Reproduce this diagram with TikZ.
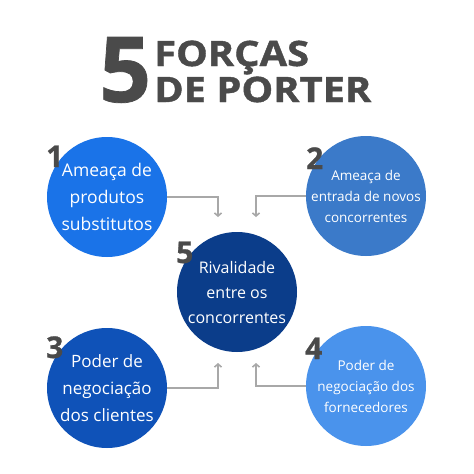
\documentclass[tikz,border=0pt]{standalone}
\usepackage{fontspec}
\setmainfont{Open Sans}
\newfontfamily\titlefont[FakeStretch=1.14,FakeBold=1.2]{Open Sans}
\newfontfamily\numfont[FakeBold=0.8]{Open Sans}
\usetikzlibrary{arrows.meta}
\definecolor{titlegray}{HTML}{4A4A4A}
\definecolor{linkgray}{HTML}{A8A8A8}
\definecolor{blueA}{HTML}{1A73E8}
\definecolor{blueB}{HTML}{3B7AC9}
\definecolor{blueC}{HTML}{0F52B8}
\definecolor{blueD}{HTML}{4A93EC}
\definecolor{blueE}{HTML}{0B3D8A}
\begin{document}
\begin{tikzpicture}[x=1pt,y=-1pt,
  ball/.style={circle,minimum size=120pt,inner sep=0pt},
  ballText/.style={text=white,align=center,inner sep=0pt},
  num/.style={font=\numfont\fontsize{30}{30}\selectfont\bfseries,text=titlegray,anchor=base west,inner sep=0pt},
  link/.style={draw=linkgray,line width=1.6pt,-{Straight Barb[length=3pt,width=7pt]}}]
\fill[white] (0,0) rectangle (474,474);
\useasboundingbox (0,0) rectangle (474,474);
% title
\node[anchor=base west,inner sep=0pt,text=titlegray,font=\numfont\fontsize{91}{91}\selectfont\bfseries] (big5) at (99,102) {5};
\node[anchor=base west,inner sep=0pt,text=titlegray,font=\titlefont\fontsize{35}{36}\selectfont\bfseries] (t1) at (154,66) {FORÇAS};
\node[anchor=base west,inner sep=0pt,text=titlegray,font=\titlefont\fontsize{35}{36}\selectfont\bfseries] (t2) at (154,102) {DE PORTER};
% circles
\node[ball,fill=blueA] (c1) at (107,197) {};
\node[ball,fill=blueB] (c2) at (366,196) {};
\node[ball,fill=blueE] (c5) at (237,292) {};
\node[ball,fill=blueC] (c3) at (107,388) {};
\node[ball,fill=blueD] (c4) at (366,386) {};
\node[ballText,font=\fontsize{17.5}{27}\selectfont] (x1) at (c1) {Ameaça de\\produtos\\substitutos};
\node[ballText,font=\fontsize{13.5}{21}\selectfont] (x2) at (c2) {Ameaça de\\entrada de novos\\concorrentes};
\node[ballText,font=\fontsize{16}{25}\selectfont] (x5) at (c5) {Rivalidade\\entre os\\concorrentes};
\node[ballText,font=\fontsize{17}{27}\selectfont] (x3) at (c3) {Poder de\\negociação\\dos clientes};
\node[ballText,font=\fontsize{13.5}{21}\selectfont] (x4) at (c4) {Poder de\\negociação dos\\fornecedores};
% numbers
\node[num] (n1) at (46,167) {1};
\node[num] (n2) at (306,169) {2};
\node[num] (n5) at (176,263) {5};
\node[num] (n3) at (46,358) {3};
\node[num] (n4) at (305,359) {4};
% links
\coordinate (a1) at (218,217);
\coordinate (a2) at (256,217);
\coordinate (a3) at (218,363);
\coordinate (a4) at (256,363);
\draw[link] (c1.east) -| (a1);
\draw[link] (c2.west) -| (a2);
\draw[link] (c3.east) -| (a3);
\draw[link] (c4.west) -| (a4);
\end{tikzpicture}
\end{document}
